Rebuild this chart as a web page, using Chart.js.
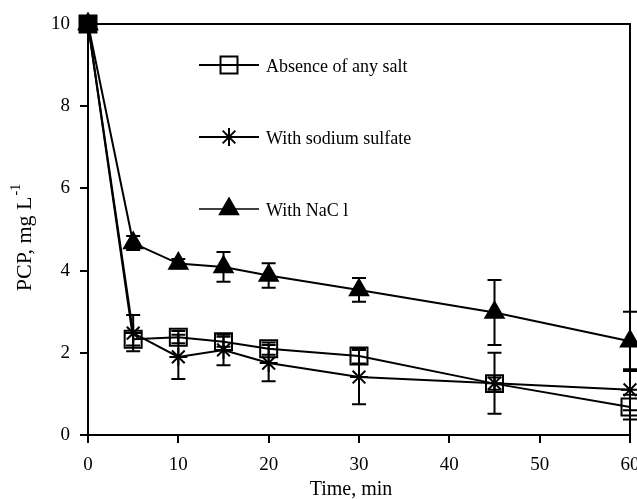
<!DOCTYPE html>
<html>
<head>
<meta charset="utf-8">
<script src="https://cdn.jsdelivr.net/npm/chart.js@4/dist/chart.umd.min.js"></script>
<style>
  html, body { margin: 0; padding: 0; background: #fff; }
  canvas { display: block; }
</style>
</head>
<body>
<canvas id="chart" width="637" height="499"></canvas>
<script>
// sampling times (min)
const times = [0, 5, 10, 15, 20, 30, 45, 60];

// PCP, mg/L
const noSalt      = [10, 2.33, 2.38, 2.27, 2.10, 1.92, 1.25, 0.68];
const noSaltErr   = [0, 0.15, 0.15, 0.12, 0.15, 0.18, 0.15, 0.30];
const sulfate     = [10, 2.48, 1.90, 2.07, 1.75, 1.41, 1.26, 1.10];
const sulfateErr  = [0, 0.44, 0.54, 0.37, 0.44, 0.66, 0.74, 0.50];
const nacl        = [10, 4.67, 4.17, 4.09, 3.88, 3.53, 2.98, 2.28];
const naclErr     = [0, 0.17, 0.11, 0.36, 0.30, 0.29, 0.79, 0.72];

const labels = ['Absence of any salt', 'With sodium sulfate', 'With NaC l'];
const xTicks = [0, 10, 20, 30, 40, 50, 60];
const yTicks = [0, 2, 4, 6, 8, 10];

const FONT = 'Liberation Serif, Times New Roman, serif';

function pts(vals){
    return times.map((t, i) => ({x: t, y: vals[i]}));
}

// vertical error bars with caps
const errorBars = {
    id: 'errorBars',
    beforeDatasetsDraw(chart){
        const ctx = chart.ctx;
        const xs = chart.scales.x, ys = chart.scales.y;
        ctx.save();
        ctx.strokeStyle = '#000';
        ctx.lineWidth = 2;
        chart.data.datasets.forEach((ds) => {
            ds.errors.forEach((e, i) => {
                if(!e) return;
                const px = xs.getPixelForValue(ds.data[i].x);
                const top = ys.getPixelForValue(ds.data[i].y + e);
                const bot = ys.getPixelForValue(ds.data[i].y - e);
                ctx.beginPath();
                ctx.moveTo(px, top); ctx.lineTo(px, bot);
                ctx.moveTo(px - 7, top); ctx.lineTo(px + 7, top);
                ctx.moveTo(px - 7, bot); ctx.lineTo(px + 7, bot);
                ctx.stroke();
            });
        });
        ctx.restore();
    }
};

// frame, axis titles and the legend inside the plot
const decorations = {
    id: 'decorations',
    afterDraw(chart){
        const ctx = chart.ctx;
        const a = chart.chartArea;
        ctx.save();
        ctx.strokeStyle = '#000';
        ctx.lineWidth = 2;
        ctx.beginPath();
        ctx.moveTo(a.left, a.top);
        ctx.lineTo(a.right, a.top);
        ctx.lineTo(a.right, a.bottom);
        ctx.stroke();

        ctx.fillStyle = '#000';
        ctx.font = '20px ' + FONT;
        ctx.textAlign = 'center';
        ctx.textBaseline = 'middle';
        ctx.fillText('Time, min', 351, 490);

        // y title with superscript
        const main = 'PCP, mg L', sup = '-1';
        ctx.font = '22px ' + FONT;
        const w1 = ctx.measureText(main).width;
        ctx.font = '14px ' + FONT;
        const w2 = ctx.measureText(sup).width;
        ctx.translate(25, 238);
        ctx.rotate(-Math.PI / 2);
        ctx.textAlign = 'left';
        ctx.font = '22px ' + FONT;
        ctx.fillText(main, -(w1 + w2) / 2, 0);
        ctx.font = '14px ' + FONT;
        ctx.fillText(sup, -(w1 + w2) / 2 + w1 + 1, -9);
        ctx.setTransform(1, 0, 0, 1, 0, 0);

        // legend
        chart.data.datasets.forEach((ds, i) => {
            const y = 65 + i * 72;
            ctx.lineWidth = i === 2 ? 1.5 : 2;
            ctx.beginPath();
            ctx.moveTo(199, y); ctx.lineTo(259, y);
            ctx.stroke();
            ctx.lineWidth = 2;
            ctx.fillStyle = ds.pointStyle === 'triangle' ? '#000' : 'rgba(0,0,0,0)';
            Chart.helpers.drawPoint(ctx, {
                pointStyle: ds.pointStyle, radius: ds.pointRadius,
                borderWidth: 2, rotation: 0
            }, 229, y);
            ctx.fillStyle = '#000';
            ctx.font = '18px ' + FONT;
            ctx.textAlign = 'left';
            ctx.textBaseline = 'middle';
            ctx.fillText(ds.label, 266, y + 2);
        });
        ctx.restore();
    }
};

const commonLine = {
    borderColor: '#000',
    borderWidth: 2,
    pointBorderColor: '#000',
    pointBorderWidth: 2,
    tension: 0,
    fill: false,
    clip: false
};

new Chart(document.getElementById('chart'), {
    type: 'line',
    data: {
        datasets: [
            Object.assign({}, commonLine, {
                label: labels[0], data: pts(noSalt), errors: noSaltErr,
                pointStyle: 'rect', pointRadius: 12,
                pointBackgroundColor: times.map((t, i) => i === 0 ? '#000' : 'rgba(0,0,0,0)')
            }),
            Object.assign({}, commonLine, {
                label: labels[1], data: pts(sulfate), errors: sulfateErr,
                pointStyle: 'star', pointRadius: 9,
                pointBackgroundColor: 'rgba(0,0,0,0)'
            }),
            Object.assign({}, commonLine, {
                label: labels[2], data: pts(nacl), errors: naclErr,
                pointStyle: 'triangle', pointRadius: 10.5,
                pointBackgroundColor: '#000'
            })
        ]
    },
    options: {
        responsive: false,
        animation: false,
        devicePixelRatio: 1,
        layout: { autoPadding: false, padding: { left: 0, right: 7, top: 24, bottom: 0 } },
        plugins: { legend: { display: false }, tooltip: { enabled: false } },
        scales: {
            x: {
                type: 'linear', min: 0, max: 60,
                afterBuildTicks(s){ s.ticks = xTicks.map(v => ({value: v})); },
                ticks: { color: '#000', font: { family: FONT, size: 19 }, padding: 11, maxRotation: 0 },
                grid: { drawOnChartArea: false, drawTicks: true, tickLength: 8, color: '#000', lineWidth: 2 },
                border: { color: '#000', width: 2 },
                afterFit(s){ s.height = 499 - 435; s.paddingLeft = 0; s.paddingRight = 0; }
            },
            y: {
                min: 0, max: 10,
                afterBuildTicks(s){ s.ticks = yTicks.map(v => ({value: v})); },
                ticks: { color: '#000', font: { family: FONT, size: 19 }, padding: 10 },
                grid: { drawOnChartArea: false, drawTicks: true, tickLength: 8, color: '#000', lineWidth: 2 },
                border: { color: '#000', width: 2 },
                afterFit(s){ s.width = 88; s.paddingTop = 0; s.paddingBottom = 0; }
            }
        }
    },
    plugins: [errorBars, decorations]
});
</script>
</body>
</html>
